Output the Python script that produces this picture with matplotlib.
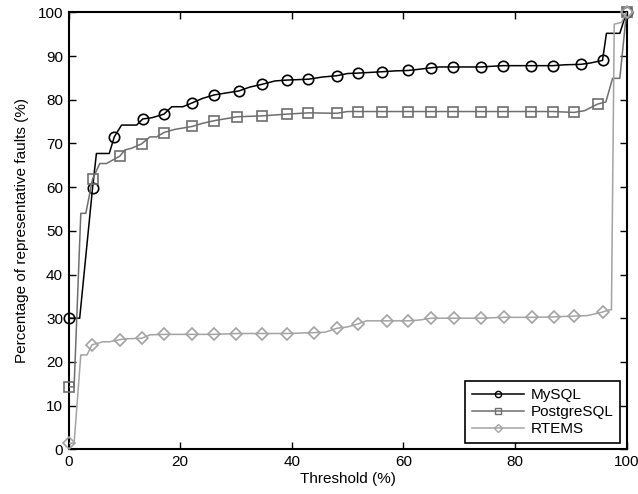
import matplotlib
matplotlib.use("Agg")
import matplotlib.pyplot as plt
from matplotlib.lines import Line2D

plt.rcParams['font.family'] = ['Liberation Sans', 'DejaVu Sans']

# region data
series_names = ['MySQL', 'PostgreSQL', 'RTEMS']

# MySQL curve (black, circles)
mysql_x = [0, 2.0, 4.3, 5.0, 7.3, 8.2, 9.5, 12.2, 13.3, 15.0, 17.1, 18.5, 20.5, 22.2, 24.0,
           26.1, 28.0, 30.5, 32.5, 34.6, 37.0, 39.1, 43.0, 45.5, 48.1, 50.0, 51.9, 56.1,
           58.5, 60.9, 63.0, 64.9, 66.5, 68.9, 73.9, 77.8, 82.9, 86.8, 89.0, 91.8, 93.5,
           95.7, 96.4, 98.8, 100]
mysql_y = [30, 30, 59.7, 67.7, 67.7, 71.5, 74.2, 74.2, 75.6, 75.9, 76.7, 78.4, 78.4, 79.3, 80.3,
           81.1, 81.5, 82.0, 82.9, 83.5, 84.3, 84.5, 84.7, 85.2, 85.5, 86.0, 86.1, 86.4,
           86.6, 86.7, 87.0, 87.3, 87.5, 87.5, 87.5, 87.8, 87.8, 87.8, 88.0, 88.1, 88.4,
           89.0, 95.2, 95.2, 100]
mysql_mark_x = [0, 4.3, 8.2, 13.3, 17.1, 22.2, 26.1, 30.5, 34.6, 39.1, 43.0, 48.1, 51.9, 56.1,
                60.9, 64.9, 68.9, 73.9, 77.8, 82.9, 86.8, 91.8, 95.7, 100]
mysql_mark_y = [30, 59.7, 71.5, 75.6, 76.7, 79.3, 81.1, 82.0, 83.5, 84.5, 84.7, 85.5, 86.1, 86.4,
                86.7, 87.3, 87.5, 87.5, 87.8, 87.8, 87.8, 88.1, 89.0, 100]

# PostgreSQL curve (dark grey, squares)
pg_x = [0, 1.0, 2.2, 3.1, 4.3, 5.6, 6.8, 9.2, 10.1, 11.3, 13.1, 14.6, 15.8, 17.1, 19.0, 22.2,
        24.0, 26.1, 30.2, 34.6, 39.1, 43.0, 48.1, 50.0, 51.9, 56.1, 60.9, 64.9, 68.9, 73.9,
        77.8, 82.9, 86.8, 90.6, 92.5, 94.8, 96.3, 97.5, 98.8, 100]
pg_y = [14.3, 14.3, 54.0, 54.0, 61.8, 65.4, 65.4, 67.1, 68.5, 68.9, 69.9, 71.5, 71.5, 72.5, 73.2,
        73.9, 74.6, 75.2, 76.1, 76.3, 76.7, 77.0, 76.9, 77.3, 77.3, 77.3, 77.3, 77.3, 77.3, 77.3,
        77.3, 77.3, 77.3, 77.1, 77.5, 79.0, 79.5, 84.9, 84.9, 100]
pg_mark_x = [0, 4.3, 9.2, 13.1, 17.1, 22.2, 26.1, 30.2, 34.6, 39.1, 43.0, 48.1, 51.9, 56.1,
             60.9, 64.9, 68.9, 73.9, 77.8, 82.9, 86.8, 90.6, 94.8, 100]
pg_mark_y = [14.3, 61.8, 67.1, 69.9, 72.5, 73.9, 75.2, 76.1, 76.3, 76.7, 77.0, 76.9, 77.3, 77.3,
             77.3, 77.3, 77.3, 77.3, 77.3, 77.3, 77.3, 77.1, 79.0, 100]

# RTEMS curve (light grey, diamonds)
rt_x = [0, 1.0, 2.2, 3.3, 4.2, 5.3, 6.2, 7.3, 9.2, 10.5, 13.1, 14.6, 17.1, 22.2, 26.0, 30.1,
        34.6, 39.1, 44.0, 46.0, 48.1, 50.0, 51.9, 53.4, 57.0, 60.9, 63.0, 65.0, 69.0, 74.0,
        78.0, 83.0, 87.0, 90.6, 93.0, 95.7, 96.9, 97.3, 97.8, 99.1, 100]
rt_y = [1.4, 1.4, 21.6, 21.6, 23.9, 24.3, 24.6, 24.6, 25.1, 25.3, 25.4, 26.2, 26.3, 26.3, 26.3,
        26.5, 26.5, 26.5, 26.7, 26.8, 27.7, 28.0, 28.7, 29.4, 29.4, 29.4, 29.6, 30.0, 30.0,
        30.0, 30.2, 30.2, 30.3, 30.5, 30.6, 31.4, 31.9, 31.9, 97.3, 97.7, 100]
rt_mark_x = [0, 4.2, 9.2, 13.1, 17.1, 22.2, 26.0, 30.1, 34.6, 39.1, 44.0, 48.1, 51.9, 57.0,
             60.9, 65.0, 69.0, 74.0, 78.0, 83.0, 87.0, 90.6, 95.7, 100]
rt_mark_y = [1.4, 23.9, 25.1, 25.4, 26.3, 26.3, 26.3, 26.5, 26.5, 26.5, 26.7, 27.7, 28.7, 29.4,
             29.4, 30.0, 30.0, 30.0, 30.2, 30.2, 30.3, 30.5, 31.4, 100]
# endregion

fig = plt.figure(figsize=(6.38, 4.94), dpi=100)
ax = fig.add_axes([0.1074, 0.0905, 0.8746, 0.8845])

styles = [('black', 'o'), ('#6e6e6e', 's'), ('#a3a3a3', 'D')]
curves = [(mysql_x, mysql_y, mysql_mark_x, mysql_mark_y),
          (pg_x, pg_y, pg_mark_x, pg_mark_y),
          (rt_x, rt_y, rt_mark_x, rt_mark_y)]

# MySQL first, RTEMS last (on top), like the original
for z, ((lx, ly, mx, my), (col, mk)) in enumerate(zip(curves, styles)):
    ax.plot(lx, ly, color=col, lw=1.1, zorder=3 + z)
    ax.plot(mx, my, ls='none', marker=mk, ms=7.5 if mk != 'D' else 6.5, mfc='none',
            mec=col, mew=1.2, zorder=3 + z, clip_on=False)

ax.set_xlim(0, 100)
ax.set_ylim(0, 100)
ax.set_xticks(range(0, 101, 20))
ax.set_yticks(range(0, 101, 10))
ax.tick_params(axis='both', which='both', direction='in', top=True, right=True,
               labelsize=11, length=5, width=1.0, pad=4)
for sp in ax.spines.values():
    sp.set_linewidth(1.5)

ax.set_xlabel('Threshold (%)', fontsize=11, labelpad=2)
ax.set_ylabel('Percentage of representative faults (%)', fontsize=11, labelpad=6)

handles = [Line2D([], [], color=col, lw=1.1, marker=mk, ms=4.5, mfc='none', mec=col, mew=1.0)
           for col, mk in styles]
leg = ax.legend(handles, series_names, loc='lower right', fontsize=11, handlelength=3.4,
                handletextpad=0.45, labelspacing=0.2, borderaxespad=0.4, borderpad=0.45,
                fancybox=False, framealpha=1, edgecolor='black')
leg.get_frame().set_linewidth(1.2)
leg.set_zorder(10)

fig.savefig('out.png', dpi=100)
